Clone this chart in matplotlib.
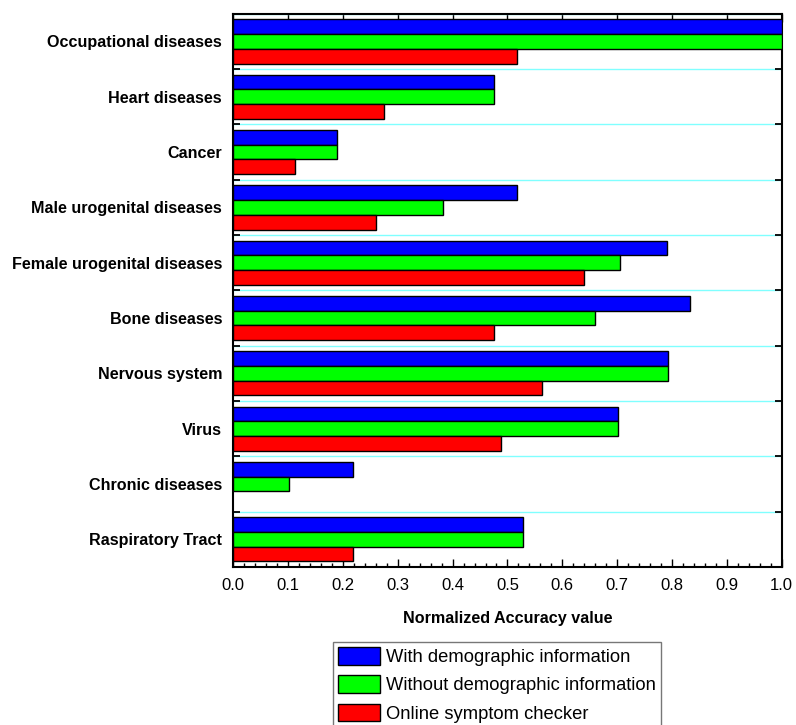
import matplotlib
matplotlib.use("Agg")
import matplotlib.pyplot as plt
import numpy as np
from matplotlib.ticker import MultipleLocator

plt.rcParams['font.family'] = ['Liberation Sans', 'DejaVu Sans']

# categories, top to bottom
categories = ["Occupational diseases", "Heart diseases", "Cancer",
              "Male urogenital diseases", "Female urogenital diseases",
              "Bone diseases", "Nervous system", "Virus",
              "Chronic diseases", "Raspiratory Tract"]
with_demo = [1.0, 0.476, 0.189, 0.517, 0.791, 0.833, 0.792, 0.701, 0.218, 0.529]
without_demo = [1.0, 0.476, 0.189, 0.382, 0.705, 0.659, 0.792, 0.701, 0.101, 0.529]
online_checker = [0.517, 0.274, 0.113, 0.260, 0.640, 0.476, 0.563, 0.488, 0.0, 0.218]

series_names = ["With demographic information",
                "Without demographic information",
                "Online symptom checker"]
colors = ["#0000ff", "#00ff00", "#ff0000"]

fig = plt.figure(figsize=(7.96, 7.25), dpi=100)
ax = fig.add_axes([0.293, 0.218, 0.689, 0.763])

y = np.arange(len(categories))
h = 0.267
for i, (vals, name, c) in enumerate(zip([with_demo, without_demo, online_checker],
                                        series_names, colors)):
    # no outline for empty bars
    lw = [1 if v > 0 else 0 for v in vals]
    ax.barh(y + (i - 1) * h, vals, height=h, color=c, edgecolor="black",
            linewidth=lw, label=name, zorder=3)

ax.set_xlim(0, 1.0)
ax.set_ylim(len(categories) - 0.5, -0.5)

# category labels
ax.set_yticks(y)
ax.set_yticklabels(categories, fontsize=11.6, fontweight="bold")
ax.tick_params(axis="y", which="major", length=0, pad=8)

# separators between groups
ax.set_yticks(np.arange(len(categories) + 1) - 0.5, minor=True)
ax.tick_params(axis="y", which="minor", direction="in", length=5, width=1.3,
               left=True, right=True)
ax.grid(axis="y", which="minor", color="#80ffff", linewidth=1, zorder=1)

ax.xaxis.set_major_locator(MultipleLocator(0.1))
ax.xaxis.set_minor_locator(MultipleLocator(0.02))
ax.xaxis.set_major_formatter(matplotlib.ticker.FormatStrFormatter("%.1f"))
ax.tick_params(axis="x", which="major", direction="in", length=6, width=1,
               top=True, bottom=True, labelsize=12, pad=8)
ax.tick_params(axis="x", which="minor", direction="in", length=3, width=1,
               top=False, bottom=True)

for s in ax.spines.values():
    s.set_linewidth(1.5)

ax.set_xlabel("Normalized Accuracy value", fontsize=11.6, fontweight="bold",
              labelpad=13)

leg = fig.legend(loc="upper left", bbox_to_anchor=(0.418, 0.115), fontsize=13.2,
                 frameon=True, fancybox=False, edgecolor="#555555",
                 handlelength=2.3, handleheight=1.1, handletextpad=0.3,
                 labelspacing=0.5, borderpad=0.3, borderaxespad=0)
for p in leg.get_patches():
    p.set_linewidth(1)

fig.savefig("out.png", dpi=100)
